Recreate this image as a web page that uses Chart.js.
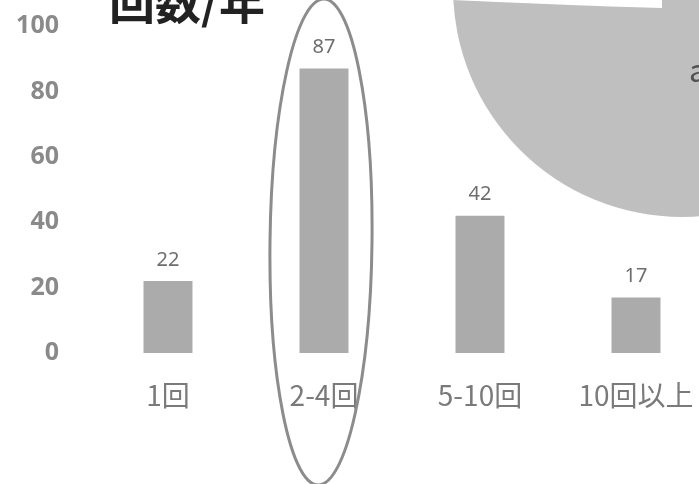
<!DOCTYPE html>
<html lang="ja">
<head>
<meta charset="UTF-8">
<title>回数/年</title>
<script src="https://cdn.jsdelivr.net/npm/chart.js@4.4.1/dist/chart.umd.min.js"></script>
<style>
  html, body { margin: 0; padding: 0; overflow: hidden; background: #fff; }
  #wrap { position: relative; width: 730px; height: 484px; }
</style>
</head>
<body>
<div id="wrap"><canvas id="chart" width="730" height="484"></canvas></div>
<script>
// data
var categories = ["1回", "2-4回", "5-10回", "10回以上"];
var counts = [22, 87, 42, 17];
var yMin = 0, yMax = 100, yStep = 20;
var titleText = "回数/年";
var circledIndex = 1; // the bar with the ring round it

var cjk = "'Noto Sans CJK JP', 'Noto Sans', sans-serif";

// decorations: title, part of the pie behind, the hand-drawn ring
var decor = {
  id: "decor",
  beforeDatasetsDraw: function(chart) {
    var ctx = chart.ctx;
    ctx.save();
    // grey pie cut off at the top right
    ctx.fillStyle = "#bfbfbf";
    ctx.beginPath();
    ctx.arc(682, -12, 229, 0, Math.PI * 2);
    ctx.fill();
    // white slice edge
    ctx.fillStyle = "#fff";
    ctx.beginPath();
    ctx.moveTo(452, 0);
    ctx.lineTo(662, 0);
    ctx.lineTo(662, 8);
    ctx.quadraticCurveTo(560, 5, 452, 0);
    ctx.fill();
    // bit of a label inside the pie
    ctx.fillStyle = "#505050";
    ctx.font = "32px " + cjk;
    ctx.textAlign = "left";
    ctx.textBaseline = "middle";
    ctx.fillText("a", 689, 70);
    ctx.restore();
  },
  afterDatasetsDraw: function(chart) {
    var ctx = chart.ctx;
    var meta = chart.getDatasetMeta(0);
    ctx.save();
    ctx.fillStyle = "#6e6e6e";
    ctx.font = "20px 'Noto Sans', sans-serif";
    ctx.textAlign = "center";
    ctx.textBaseline = "middle";
    meta.data.forEach(function(bar, i) {
      ctx.fillText(String(counts[i]), bar.x, bar.y - 21);
    });
    ctx.restore();
  },
  afterDraw: function(chart) {
    var ctx = chart.ctx;
    var bar = chart.getDatasetMeta(0).data[circledIndex];
    ctx.save();
    // title, cut by the top edge
    ctx.fillStyle = "#222";
    ctx.font = "bold 46px " + cjk;
    ctx.textAlign = "center";
    ctx.textBaseline = "middle";
    ctx.fillText(titleText, 187, 2);
    // ring
    ctx.strokeStyle = "#8c8c8c";
    ctx.lineWidth = 3;
    ctx.beginPath();
    ctx.ellipse(bar.x - 3, 242, 51, 243, 0.012, 0, Math.PI * 2);
    ctx.stroke();
    ctx.restore();
  }
};

new Chart(document.getElementById("chart"), {
  type: "bar",
  data: {
    labels: categories,
    datasets: [{
      data: counts,
      backgroundColor: "#ababab",
      categoryPercentage: 1,
      barPercentage: 0.314
    }]
  },
  options: {
    responsive: false,
    animation: false,
    events: [],
    layout: { padding: { top: 26, left: 0, right: 16, bottom: 0 } },
    plugins: { legend: { display: false }, tooltip: { enabled: false } },
    scales: {
      x: {
        grid: { display: false, drawTicks: false },
        border: { display: false },
        ticks: {
          color: "#7a7a7a",
          font: { family: cjk, size: 28 },
          padding: 26,
          maxRotation: 0
        },
        afterFit: function(scale) { scale.height = 131; }
      },
      y: {
        min: yMin,
        max: yMax,
        grid: { display: false, drawTicks: false },
        border: { display: false },
        ticks: {
          stepSize: yStep,
          color: "#8a8a8a",
          font: { family: "'Noto Sans', sans-serif", size: 25, weight: "bold" },
          padding: 31
        },
        afterFit: function(scale) {
          scale.width = 90;
          // tick padding should only push labels sideways, not down from the top
          scale.paddingTop = 0;
          scale.paddingBottom = 0;
        }
      }
    }
  },
  plugins: [decor]
});
</script>
</body>
</html>
